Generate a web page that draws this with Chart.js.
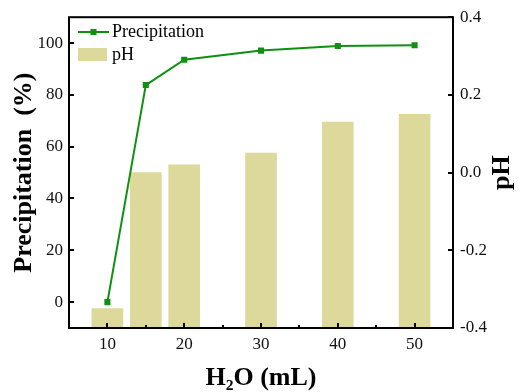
<!DOCTYPE html>
<html>
<head>
<meta charset="utf-8">
<script src="https://cdn.jsdelivr.net/npm/chart.js@4.4.1/dist/chart.umd.min.js"></script>
<style>
  html, body { margin: 0; padding: 0; background: #fff; }
  #wrap { width: 520px; height: 392px; }
</style>
</head>
<body>
<div id="wrap"><canvas id="c" width="520" height="392"></canvas></div>
<script>
const waterVolume = [10, 15, 20, 30, 40, 50];
const precipitation = [0, 83.8, 93.6, 97.1, 98.9, 99.2];
const pHValues = [-0.35, 0.0, 0.02, 0.05, 0.13, 0.15];
const xTicks = [10, 20, 30, 40, 50];
const xMinorTicks = [15, 25, 35, 45];
const leftTicks = [0, 20, 40, 60, 80, 100];
const rightTicks = [-0.4, -0.2, 0.0, 0.2, 0.4];
const seriesNames = ['Precipitation', 'pH'];
const xTitle = 'H\u2082O (mL)';
const leftTitle = 'Precipitation  (%)';
const rightTitle = 'pH';

const GREEN = '#109010';
const KHAKI = '#dcd99b';
const FONT = '"Liberation Serif", "Times New Roman", serif';

const decor = {
  id: 'decor',
  afterDraw(chart) {
    const ctx = chart.ctx, a = chart.chartArea;
    const sx = chart.scales.x, sy = chart.scales.y, sy2 = chart.scales.y2;
    ctx.save();
    ctx.strokeStyle = '#000';
    ctx.lineWidth = 2;
    ctx.strokeRect(a.left, a.top, a.right - a.left, a.bottom - a.top);
    ctx.beginPath();
    xTicks.forEach(v => { const p = Math.round(sx.getPixelForValue(v)); ctx.moveTo(p, a.bottom); ctx.lineTo(p, a.bottom - 5); });
    xMinorTicks.forEach(v => { const p = Math.round(sx.getPixelForValue(v)); ctx.moveTo(p, a.bottom); ctx.lineTo(p, a.bottom - 3); });
    leftTicks.forEach(v => { const p = Math.round(sy.getPixelForValue(v)); ctx.moveTo(a.left, p); ctx.lineTo(a.left + 5, p); });
    rightTicks.forEach(v => { const p = Math.round(sy2.getPixelForValue(v)); ctx.moveTo(a.right, p); ctx.lineTo(a.right - 5, p); });
    ctx.stroke();

    // legend
    ctx.fillStyle = '#000';
    ctx.font = '18px ' + FONT;
    ctx.textBaseline = 'middle';
    ctx.textAlign = 'left';
    ctx.strokeStyle = GREEN; ctx.lineWidth = 2;
    ctx.beginPath(); ctx.moveTo(78, 32); ctx.lineTo(109, 32); ctx.stroke();
    ctx.fillStyle = GREEN; ctx.fillRect(90.5, 29, 6, 6);
    ctx.fillStyle = '#000';
    ctx.fillText(seriesNames[0], 112, 32);
    ctx.fillStyle = KHAKI; ctx.fillRect(78, 48, 29, 13);
    ctx.fillStyle = '#000';
    ctx.fillText(seriesNames[1], 112, 55);

    // titles
    const midY = (a.top + a.bottom) / 2;
    ctx.font = 'bold 26px ' + FONT;
    ctx.textAlign = 'center';
    ctx.textBaseline = 'middle';
    ctx.save(); ctx.translate(24, midY); ctx.rotate(-Math.PI / 2); ctx.fillText(leftTitle, 0, 0); ctx.restore();
    ctx.save(); ctx.translate(502, midY); ctx.rotate(-Math.PI / 2); ctx.fillText(rightTitle, 0, 0); ctx.restore();
    ctx.textBaseline = 'alphabetic';
    ctx.fillText(xTitle, (a.left + a.right) / 2, 385);
    ctx.restore();
  }
};

new Chart(document.getElementById('c'), {
  type: 'bar',
  data: {
    datasets: [
      {
        type: 'line',
        label: seriesNames[0],
        data: waterVolume.map((x, i) => ({ x, y: precipitation[i] })),
        yAxisID: 'y',
        borderColor: GREEN,
        backgroundColor: GREEN,
        borderWidth: 2,
        pointStyle: 'rect',
        pointRadius: 4.3,
        pointBorderWidth: 0,
        tension: 0
      },
      {
        type: 'bar',
        label: seriesNames[1],
        data: waterVolume.map((x, i) => ({ x, y: pHValues[i] })),
        yAxisID: 'y2',
        base: -0.4,
        backgroundColor: KHAKI,
        borderWidth: 0,
        barThickness: 31
      }
    ]
  },
  options: {
    responsive: false,
    animation: false,
    events: [],
    layout: { padding: { top: 17, left: 0, right: 0, bottom: 0 } },
    plugins: { legend: { display: false }, tooltip: { enabled: false } },
    scales: {
      x: {
        type: 'linear',
        min: 5, max: 55,
        offset: false,
        afterBuildTicks: s => { s.ticks = xTicks.map(v => ({ value: v })); },
        afterFit: s => { s.height = 64; },
        grid: { display: false, drawTicks: false },
        border: { display: false },
        ticks: { padding: 6, color: '#111', font: { family: FONT, size: 17 } }
      },
      y: {
        type: 'linear',
        position: 'left',
        min: -10, max: 110,
        afterBuildTicks: s => { s.ticks = leftTicks.map(v => ({ value: v })); },
        afterFit: s => { s.width = 69; },
        grid: { display: false, drawTicks: false },
        border: { display: false },
        ticks: { padding: 6, color: '#111', font: { family: FONT, size: 17 } }
      },
      y2: {
        type: 'linear',
        position: 'right',
        min: -0.4, max: 0.4,
        afterBuildTicks: s => { s.ticks = rightTicks.map(v => ({ value: v })); },
        afterFit: s => { s.width = 67; },
        grid: { display: false, drawTicks: false },
        border: { display: false },
        ticks: { padding: 7, color: '#111', font: { family: FONT, size: 17 }, callback: v => Number(v).toFixed(1) }
      }
    }
  },
  plugins: [decor]
});
</script>
</body>
</html>
